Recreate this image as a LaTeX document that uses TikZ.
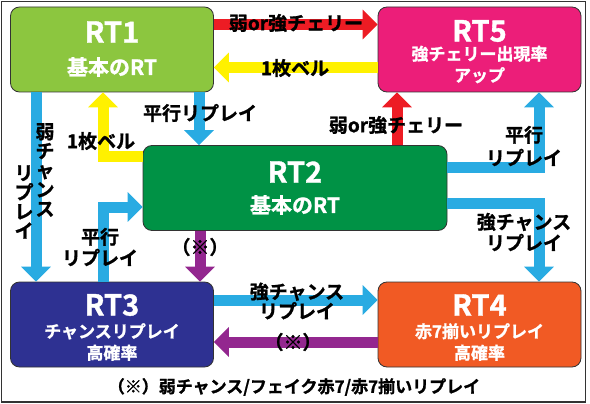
\documentclass[tikz,border=0pt]{standalone}
\usepackage{fontspec}
\setmainfont{Noto Sans CJK JP}[BoldFont={Noto Sans CJK JP Bold}, BoldFeatures={FakeBold=1.2}]
\usetikzlibrary{arrows.meta}
\definecolor{rtgreen}{HTML}{8CC63F}
\definecolor{rtpink}{HTML}{EC1E79}
\definecolor{rtdkgreen}{HTML}{009245}
\definecolor{rtnavy}{HTML}{2E3192}
\definecolor{rtorange}{HTML}{F15A24}
\definecolor{arblue}{HTML}{29ABE2}
\definecolor{aryellow}{HTML}{FFF100}
\definecolor{arred}{HTML}{ED1C24}
\definecolor{arpurple}{HTML}{93278F}

\begin{document}
\begin{tikzpicture}[x=1pt,y=-1pt,
            rtbox/.style={draw=black!80, line width=0.8pt, rounded corners=9pt,
                minimum width=203pt, minimum height=85pt, inner sep=0pt},
            rttitle/.style={text=white, inner sep=0pt,
                font=\bfseries\fontsize{29}{29}\selectfont},
            rtsub/.style={text=white, inner sep=0pt, align=center,
                font=\bfseries\fontsize{17}{21.5}\selectfont},
            lbl/.style={inner sep=0pt, align=center,
                font=\bfseries\fontsize{19}{21}\selectfont},
            arr/.style={line width=11pt, -{Triangle[width=29pt,length=15pt]}},
            barr/.style={arr, draw=arblue},
            yarr/.style={arr, draw=aryellow},
            rarr/.style={arr, draw=arred},
            parr/.style={arr, draw=arpurple}]
            \useasboundingbox (0,0) rectangle (590,404);
            \draw[line width=1.5pt, black!80] (1.5,1.5) rectangle (585.5,402);

            % boxes
            \node[rtbox, fill=rtgreen]  (rt1) at (112,49.5) {};
            \node[rtbox, fill=rtpink]   (rt5) at (479.5,49.5) {};
            \node[rtbox, fill=rtdkgreen, minimum width=304pt] (rt2) at (295,188) {};
            \node[rtbox, fill=rtnavy]   (rt3) at (112,324.5) {};
            \node[rtbox, fill=rtorange] (rt4) at (479.5,324.5) {};

            \node[rttitle] (rt1t) at (112,32) {RT1};
            \node[rtsub, font=\bfseries\fontsize{21}{21}\selectfont] (rt1s) at (112,67) {基本のRT};
            \node[rttitle] (rt5t) at (479.5,31) {RT5};
            \node[rtsub] (rt5s) at (479.5,64.5) {強チェリー出現率\\アップ};
            \node[rttitle] (rt2t) at (295,172) {RT2};
            \node[rtsub, font=\bfseries\fontsize{21}{21}\selectfont] (rt2s) at (295,205) {基本のRT};
            \node[rttitle] (rt3t) at (112,305) {RT3};
            \node[rtsub] (rt3s) at (112,342) {チャンスリプレイ\\高確率};
            \node[rttitle] (rt4t) at (479.5,305) {RT4};
            \node[rtsub] (rt4s) at (479.5,342) {赤7揃いリプレイ\\高確率};

            % transitions
            \draw[rarr] ([yshift=25pt]rt1.east) -- ([yshift=25pt]rt1.east -| rt5.west);
            \draw[yarr] ([yshift=-18pt]rt5.west) -- ([yshift=-18pt]rt5.west -| rt1.east);
            \draw[yarr] ([yshift=31pt]rt2.west) -| ([xshift=-9pt]rt1.south);
            \draw[barr] ([xshift=87pt]rt1.south) -- ([xshift=87pt]rt1.south |- rt2.north);
            \draw[barr] ([xshift=-76pt]rt1.south) -- ([xshift=-76pt]rt3.north);
            \draw[barr] ([xshift=-9pt]rt3.north) |- ([yshift=-19pt]rt2.west);
            \draw[parr] ([xshift=-95pt]rt2.south) -- ([xshift=-95pt]rt2.south |- rt3.north);
            \draw[rarr] ([xshift=102pt]rt2.north) -- ([xshift=102pt]rt2.north |- rt5.south);
            \draw[barr] ([yshift=20pt]rt2.east) -| ([xshift=59.5pt]rt5.south);
            \draw[barr] ([yshift=-15pt]rt2.east) -| ([xshift=59.5pt]rt4.north);
            \draw[barr] ([yshift=24.5pt]rt3.east) -- ([yshift=24.5pt]rt3.east -| rt4.west);
            \draw[parr] ([yshift=-17.5pt]rt4.west) -- ([yshift=-17.5pt]rt4.west -| rt3.east);

            % labels
            \node[lbl] (cherry1) at (296,23) {弱or強チェリー};
            \node[lbl] (bell1) at (295,68) {1枚ベル};
            \node[lbl] (bell2) at (101,141) {1枚ベル};
            \node[lbl] (para1) at (200,113) {平行リプレイ};
            \node[lbl, font=\bfseries\fontsize{19}{19.3}\selectfont] (weakA) at (45,170) {弱\\チ\\ャ\\ン\\ス};
            \node[lbl, font=\bfseries\fontsize{19}{19.3}\selectfont] (weakB) at (24,202) {リ\\プ\\レ\\イ};
            \node[lbl] (mark1) at (200,247) {（※）};
            \node[lbl] (para2) at (100,247) {平行\\リプレイ};
            \node[lbl] (cherry2) at (396,125) {弱or強チェリー};
            \node[lbl, font=\bfseries\fontsize{19}{23}\selectfont] (para3) at (524,146) {平行\\リプレイ};
            \node[lbl] (strong1) at (524,232) {強チャンス\\リプレイ};
            \node[lbl, font=\bfseries\fontsize{19}{19.5}\selectfont] (strong2) at (297,301) {強チャンス\\リプレイ};
            \node[lbl] (mark2) at (293,342) {（※）};
            \node[lbl, font=\bfseries\fontsize{17}{17}\selectfont] (note) at (294,387)
                {（※）弱チャンス/フェイク赤7/赤7揃いリプレイ};
        \end{tikzpicture}
\end{document}
